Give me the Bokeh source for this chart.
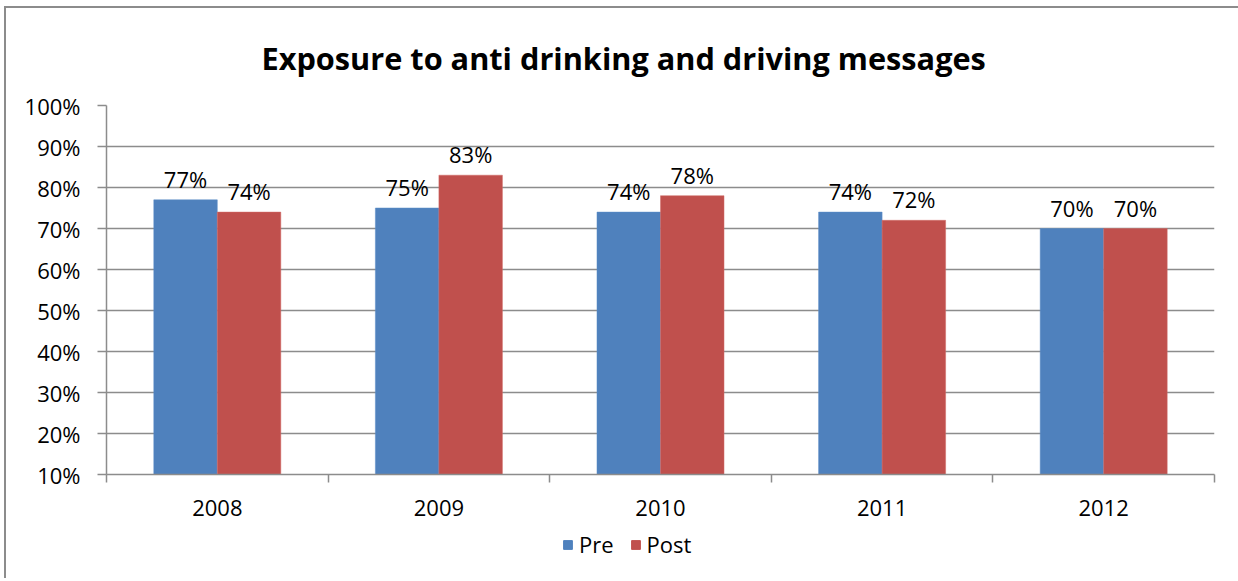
from bokeh.plotting import figure
from bokeh.layouts import column
from bokeh.models import ColumnDataSource, FixedTicker, Legend, LegendItem, Range1d
from bokeh.embed import file_html
from bokeh.resources import INLINE
from bokeh.core.properties import value

years = ["2008", "2009", "2010", "2011", "2012"]
pre = [77, 75, 74, 74, 70]
post = [74, 83, 78, 72, 70]
y_ticks = [10, 20, 30, 40, 50, 60, 70, 80, 90, 100]
series_names = ["Pre", "Post"]
title_text = "Exposure to anti drinking and driving messages"

FONT = "Open Sans"
BLUE = "#4F81BD"
RED = "#C0504D"
GRID = "#8c8c8c"
FS = "22px"

OX, OY = 6, 8            # canvas origin on the page (after border)
W = 1238 - OX
H1 = 522                  # main figure height
H2 = 48                   # legend strip height
FL, FR, FT, FB = 106, 1214, 104, 474   # frame edges on the page

p = figure(width=W, height=H1, output_backend="svg", toolbar_location=None,
           x_range=Range1d(0, len(years)), y_range=Range1d(10, 100),
           min_border_left=FL - OX, min_border_right=W - (FR - OX),
           min_border_top=FT - OY, min_border_bottom=H1 - (FB - OY))
p.outline_line_color = None

p.title.text = title_text
p.title.align = "left"
p.title.offset = 261 - FL
p.title.standoff = 53
p.title.text_font = FONT
p.title.text_font_size = "30.7px"
p.title.text_font_style = "bold"
p.title.text_color = "black"

bw = 0.2866
centers = [i + 0.5 for i in range(len(years))]
src = ColumnDataSource(dict(
    xpre=[c - bw / 2 for c in centers], xpost=[c + bw / 2 for c in centers],
    pre=pre, post=post,
    pre_lbl=[f"{v}%" for v in pre], post_lbl=[f"{v}%" for v in post]))

p.vbar(x="xpre", top="pre", bottom=10, width=bw, source=src,
       fill_color=BLUE, line_color="#5b8cc6", line_width=0.5)
p.vbar(x="xpost", top="post", bottom=10, width=bw, source=src,
       fill_color=RED, line_color="#d06a67", line_width=0.5)

for xcol, lcol, ycol in (("xpre", "pre_lbl", "pre"), ("xpost", "post_lbl", "post")):
    p.text(x=xcol, y=ycol, text=lcol, source=src, text_align="center",
           text_baseline="bottom", y_offset=-6, text_font=value(FONT),
           text_font_size=FS, text_color="black")

# x axis
p.xaxis.ticker = FixedTicker(ticks=centers, minor_ticks=list(range(len(years) + 1)))
p.xaxis.major_label_overrides = {c: y for c, y in zip(centers, years)}
p.xaxis.major_tick_line_color = None
p.xaxis.major_tick_out = 0
p.xaxis.major_tick_in = 0
p.xaxis.minor_tick_out = 8
p.xaxis.minor_tick_in = 0
p.xaxis.minor_tick_line_color = GRID
p.xaxis.minor_tick_line_width = 1.5
p.xaxis.axis_line_color = GRID
p.xaxis.axis_line_width = 1.5
p.xaxis.major_label_standoff = 17
p.xaxis.major_label_text_font = FONT
p.xaxis.major_label_text_font_size = FS
p.xaxis.major_label_text_color = "black"

# y axis
p.yaxis.ticker = FixedTicker(ticks=y_ticks)
p.yaxis.major_label_overrides = {v: f"{v}%" for v in y_ticks}
p.yaxis.major_tick_out = 9
p.yaxis.major_tick_in = 0
p.yaxis.minor_tick_line_color = None
p.yaxis.major_tick_line_color = GRID
p.yaxis.major_tick_line_width = 1.5
p.yaxis.axis_line_color = GRID
p.yaxis.axis_line_width = 1.5
p.yaxis.major_label_standoff = 17
p.yaxis.major_label_text_font = FONT
p.yaxis.major_label_text_font_size = FS
p.yaxis.major_label_text_color = "black"

p.xgrid.grid_line_color = None
p.ygrid.grid_line_color = GRID
p.ygrid.grid_line_width = 1.5

# legend strip (its handle renderers use the same data, but lie outside its view)
p2 = figure(width=W, height=H2, output_backend="svg", toolbar_location=None,
            x_range=Range1d(100, 101), y_range=Range1d(1000, 1001),
            x_axis_location=None, y_axis_location=None, min_border=0)
p2.outline_line_color = None
p2.grid.visible = False
h_pre = p2.vbar(x="xpre", top="pre", width=bw, source=src, fill_color=BLUE, line_color=BLUE)
h_post = p2.vbar(x="xpost", top="post", width=bw, source=src, fill_color=RED, line_color=RED)
legend = Legend(items=[LegendItem(label=series_names[0], renderers=[h_pre]),
                       LegendItem(label=series_names[1], renderers=[h_post])],
                orientation="horizontal", location=(563 - 1 - FL, 19),
                label_text_font=FONT, label_text_font_size=FS, label_text_color="black",
                glyph_width=11, glyph_height=11, spacing=16, label_standoff=6,
                margin=0, padding=6,
                border_line_color=None, background_fill_alpha=0)
p2.add_layout(legend, "center")

layout = column(p, p2, spacing=0,
                styles={"border-top": "2px solid #8c8c8c", "border-left": "2px solid #8c8c8c",
                        "margin-left": "4px", "margin-top": "6px"})

open("out.html", "w").write(file_html(layout, INLINE))
